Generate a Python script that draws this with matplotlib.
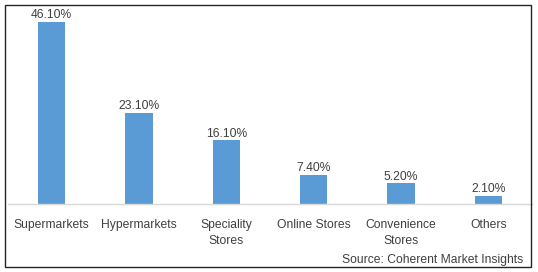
import matplotlib.pyplot as plt
from matplotlib.patches import Rectangle

categories = ['Supermarkets', 'Hypermarkets', 'Speciality\nStores', 'Online Stores',
              'Convenience\nStores', 'Others']
shares = [46.1, 23.1, 16.1, 7.4, 5.2, 2.1]
value_labels = ['46.10%', '23.10%', '16.10%', '7.40%', '5.20%', '2.10%']
source = 'Source: Coherent Market Insights'

W, H = 538, 272
fig = plt.figure(figsize=(W / 100, H / 100), dpi=100)
plt.rcParams['font.family'] = ['Liberation Sans', 'DejaVu Sans']

# outer frame
fig.patches.append(Rectangle((5 / W, 5 / H), 526 / W, 262 / H, transform=fig.transFigure,
                             fill=False, edgecolor='#262626', linewidth=1))

# axes: x 8..532 px, y baseline at 204 px, top at ~6.5 px
ax = fig.add_axes([8 / W, (H - 204) / H, 524 / W, 197.5 / H])
x = range(len(categories))
bars = ax.bar(x, shares, width=0.31, color='#5B9BD5')
ax.set_xlim(-0.5, len(categories) - 0.5)
ax.set_ylim(0, 50)

for i, (v, lab) in enumerate(zip(shares, value_labels)):
    ax.text(i, v + 0.15, lab, ha='center', va='bottom', fontsize=8.7, color='#404040')

ax.set_xticks(list(x))
ax.set_xticklabels(categories, fontsize=8.7, color='#404040', linespacing=1.45, va='top')
ax.tick_params(axis='x', length=0, pad=11)
ax.set_yticks([])
for s in ['top', 'right', 'left']:
    ax.spines[s].set_visible(False)
ax.spines['bottom'].set_color('#D9D9D9')
ax.spines['bottom'].set_linewidth(1)

fig.text(523 / W, (H - 260) / H, source, ha='right', va='center', fontsize=8.7, color='#404040')

fig.savefig('out.png', dpi=100)
